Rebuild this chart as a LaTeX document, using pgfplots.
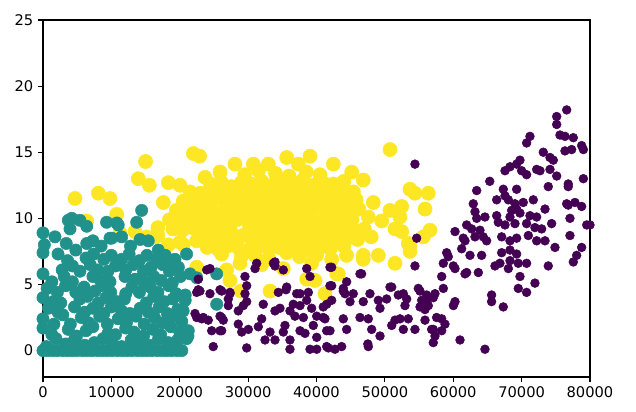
\documentclass[border=0pt]{standalone}
\usepackage{pgfplots}
\pgfplotsset{compat=1.18}
\usepackage{fontspec}
\setmainfont{DejaVu Sans}
\definecolor{vpurple}{HTML}{440154}
\definecolor{vteal}{HTML}{21918C}
\definecolor{vyellow}{HTML}{FDE725}
\begin{document}
\begin{tikzpicture}
\path[use as bounding box] (-32.25pt,-25.5pt) rectangle (444.75pt,282.75pt);
\begin{axis}[
  at={(0,0)}, anchor=south west,
  scale only axis, width=410.25pt, height=267.75pt,
  xmin=0, xmax=80000, ymin=-2, ymax=25,
  xtick={0,10000,...,80000}, ytick={0,5,...,25},
  scaled x ticks=false,
  /pgf/number format/1000 sep={},
  /pgf/number format/assume math mode=true,
  tick label style={font=\fontsize{11}{13}\selectfont, black},
  tick align=outside, tick pos=left,
  major tick length=3.8pt,
  axis line style={line width=0.9pt},
  every tick/.style={black, line width=0.9pt},
]
% yellow cluster
\addplot[only marks, mark=*, mark size=5.3pt, color=vyellow, mark options={draw=vyellow}] table {
x y
22000 14.9
22900 14.7
50750 15.2
35640 14.6
39050 14.7
28080 14.1
30760 14.1
32950 14.1
37340 14.1
42460 14.1
15000 14.3
23700 13.1
25890 13.5
29500 13.3
31500 13.6
34000 13.4
36000 13.2
38500 13.5
40500 13.3
45150 13.5
13940 13.0
15550 12.5
18330 12.7
20040 12.5
24500 12.6
26000 12.8
27500 12.4
29000 12.7
30500 12.6
32000 12.8
33500 12.5
35000 12.7
36500 12.6
38000 12.9
39500 12.5
41000 12.7
42500 12.6
44000 12.8
46840 12.9
53670 12.2
21500 12.0
23000 11.9
24400 12.1
25800 11.8
27200 12.0
28600 12.2
30000 11.9
31400 12.1
32800 11.8
34200 12.0
35600 12.2
37000 11.9
38400 12.1
39800 11.8
41200 12.0
42600 12.1
44000 11.9
45400 12.0
54400 11.9
56350 11.9
17600 11.2
9800 11.5
8090 11.9
4680 11.5
20500 11.3
22000 11.4
23400 11.2
24800 11.3
26200 11.5
27600 11.2
29000 11.4
30400 11.3
31800 11.2
33200 11.5
34600 11.3
36000 11.2
37400 11.4
38800 11.3
40200 11.1
41600 11.4
43000 11.3
44400 11.2
45800 11.4
48300 11.2
10780 10.3
19500 10.6
21000 10.5
22400 10.7
23800 10.6
25200 10.4
26600 10.7
28000 10.5
29400 10.6
30800 10.8
32200 10.5
33600 10.6
35000 10.4
36400 10.7
37800 10.5
39200 10.6
40600 10.8
42000 10.5
43400 10.6
44800 10.4
46200 10.7
50750 10.6
52460 10.9
55870 10.7
18500 9.9
20000 9.8
21400 10.0
22800 9.9
24200 9.7
25600 10.0
27000 9.8
28400 9.9
29800 10.1
31200 9.8
32600 9.9
34000 10.0
35400 9.7
36800 9.9
38200 10.1
39600 9.8
41000 9.9
42400 10.0
43800 9.8
45200 9.9
47580 10.1
49540 9.8
52200 10.1
13450 9.0
11260 8.9
16800 9.3
19000 9.2
20400 9.1
21800 9.3
23200 9.2
24600 9.0
26000 9.3
27400 9.1
30200 9.4
31600 9.1
33000 9.2
34400 9.3
35800 9.0
37200 9.2
38600 9.4
40000 9.1
41400 9.2
42800 9.0
44200 9.3
45600 9.1
47000 9.2
51480 9.2
52460 9.0
56600 9.1
6390 9.8
15160 8.6
16800 8.7
20040 8.2
22480 8.3
23600 8.5
25000 8.6
26400 8.4
27800 8.5
29200 8.7
30600 8.4
32000 8.5
33400 8.6
34800 8.4
36200 8.5
37600 8.7
39000 8.4
40400 8.5
41800 8.6
43200 8.3
44600 8.5
46000 8.4
48000 8.6
55620 8.6
16380 8.6
18330 8.0
20520 8.0
24000 7.8
25500 7.7
27000 7.9
28500 7.8
30000 7.6
31500 7.9
33000 7.7
34500 7.8
36000 7.7
37500 7.9
39000 7.6
40500 7.8
42000 7.7
44000 7.9
53670 8.0
53420 8.1
26130 7.3
29000 7.1
31000 7.2
33000 7.0
35640 7.4
37500 7.1
40000 7.2
42220 6.9
44400 7.2
46840 7.2
49040 7.2
53670 7.5
28810 6.6
22480 6.3
26860 6.1
35150 6.2
39290 6.6
46840 6.9
51480 6.6
32000 6.5
27350 5.3
39780 5.3
38570 5.4
43190 5.8
42950 5.8
33200 4.5
41240 4.3
28900 4.5
};
% teal cluster
\addplot[only marks, mark=*, mark size=4.6pt, color=vteal, mark options={draw=vteal}] table {
x y
0 0
700 0
1400 0
2100 0
2900 0
3600 0
4300 0
5000 0
5800 0
6500 0
7200 0
8000 0
8700 0
9400 0
10100 0
10900 0
11600 0
12300 0
13000 0
13800 0
14500 0
15200 0
15900 0
16700 0
17400 0
18100 0
18800 0
19600 0
20300 0
500 0.3
1900 0.9
3300 0.5
4600 0.8
6100 0.4
7500 0.6
8800 0.9
10200 0.5
11500 0.3
12900 0.8
14200 0.6
15600 0.4
16900 0.9
18300 0.6
19700 0.8
21000 0.9
0 1.7
1300 1.2
3700 1.6
4900 1.1
6300 1.5
7300 1.8
9500 1.3
10600 1.2
12100 1.7
13300 1.4
14700 1.1
16100 1.6
17200 1.2
18700 1.8
20000 1.4
21200 1.1
0 2.4
1600 2.0
2900 2.7
4000 2.0
5600 2.5
6700 2.1
8300 2.6
9400 2.0
11000 2.4
12200 2.1
13600 2.6
14800 2.0
16300 2.5
17500 2.1
19000 2.6
20300 2.2
800 3.2
2200 2.9
4600 3.3
6100 2.9
7300 3.2
8900 2.8
10000 3.3
11500 3.0
12700 2.8
14200 3.2
15400 2.9
17000 3.3
18200 2.8
19700 3.1
0 4.0
1500 3.7
2600 3.6
5400 3.9
6500 4.1
8100 3.6
9200 4.0
10800 3.7
11900 3.9
15100 3.6
16200 4.1
17700 3.7
19000 3.9
600 4.7
2100 4.4
3300 4.9
4800 4.4
6000 4.8
7600 4.5
8700 4.9
9900 4.4
12100 4.3
13000 4.8
14100 4.4
15700 4.8
16800 4.4
18400 4.9
19500 4.3
20800 4.2
0 5.8
1300 5.2
3100 5.6
4300 5.2
7300 5.6
8400 5.3
9800 5.2
12000 5.6
13500 5.4
14700 5.2
16200 5.6
17300 5.3
18900 5.1
20100 5.6
2800 6.1
4300 6.4
5400 6.0
6900 6.5
8000 6.1
9500 6.0
10600 6.4
12100 6.1
13200 6.5
14700 6.0
15800 6.3
17500 6.5
18500 6.0
0 7.4
2200 7.3
3600 6.8
4800 7.6
6300 7.0
7400 7.3
8900 6.9
10000 7.2
11500 6.9
12600 7.3
14100 6.8
15200 7.2
16700 6.8
17900 7.2
200 8.0
3400 8.1
6400 8.1
7300 8.3
8500 7.9
9800 8.5
11500 8.6
12800 7.9
14200 8.4
15400 8.3
0 8.9
1750 8.6
3700 9.85
3950 9.2
5400 9.85
6400 9.4
4200 10.0
9300 9.7
10800 9.65
11000 9.5
13700 9.7
14430 10.6
10050 8.5
16860 7.6
16630 6.9
18090 6.6
19300 6.9
21000 7.3
21500 5.8
22500 5.5
25400 5.8
25400 3.5
20800 3.8
21250 1.5
20500 3.0
19800 6.3
};
% purple cluster
\addplot[only marks, mark=*, mark size=3.3pt, color=vpurple, mark options={draw=vpurple}] table {
x y
22710 5.4
24420 6.2
29540 5.6
31010 6.2
33930 6.4
35150 6.1
38570 6.2
22710 4.6
24420 4.3
25890 4.6
27350 4.4
27100 3.9
29300 3.4
29790 3.7
28560 3.0
32220 3.5
34420 4.4
35540 4.6
33930 3.0
34660 3.2
37100 4.3
36610 3.5
37590 3.4
36120 3.0
36850 2.6
38080 2.5
38810 4.4
38570 3.8
39290 3.2
40030 2.6
39530 1.9
41490 3.5
40990 2.5
41490 1.5
22230 2.8
23440 2.5
24170 2.3
26130 2.5
26130 1.5
24670 1.5
28560 2.0
29060 1.4
30030 1.6
31490 1.8
31980 2.4
33200 1.4
32470 0.8
33930 0.8
35390 1.9
35150 1.4
36120 0.8
37590 1.5
38320 1.3
24900 0.3
29790 0.2
36120 0.1
39050 0.1
40030 0.1
41730 0.2
40030 1.0
29540 4.3
54650 8.5
54400 6.4
46600 5.8
55140 4.5
41970 4.9
43920 4.7
44170 4.3
47820 4.3
50750 4.8
51960 4.2
53190 3.9
55380 3.8
56110 4.2
42220 3.8
44900 3.7
46840 3.7
49040 3.8
50260 3.9
52940 3.4
55140 3.3
40990 3.3
46360 2.5
47580 2.4
49290 3.2
51480 2.3
52210 2.4
53420 2.4
55870 3.1
41240 2.4
41970 1.5
43920 2.4
44410 1.6
48070 1.6
49290 1.1
51000 1.9
52700 1.6
54400 1.6
41490 0.3
42700 0.1
43680 0.3
47580 0.3
54400 14.1
33690 6.6
42220 6.3
44410 5.2
51000 4.8
54890 4.7
39050 5.6
23940 6.1
22480 4.4
27350 4.3
27100 3.4
22480 2.5
23210 2.4
25890 2.6
25890 1.5
26370 2.3
31250 6.6
33930 6.7
41970 6.3
46360 5.8
43920 4.5
22960 4.5
26130 4.5
29790 4.9
35640 4.8
37590 4.3
42220 4.9
45380 4.3
52700 4.3
76590 18.2
75130 17.7
75130 17.1
75610 16.3
76340 16.2
77560 16.1
78780 15.5
79030 15.2
76340 15.1
77320 15.2
71220 16.2
70730 15.7
73170 15.0
74150 14.6
74630 14.4
69760 14.4
69270 14.1
68300 13.9
67570 13.6
70000 13.6
70730 13.3
72200 13.7
72690 13.6
74150 13.7
75130 13.2
79030 13.0
76820 12.6
76820 12.4
73900 12.4
65340 12.8
69270 12.2
67320 12.2
63430 12.1
67570 11.7
68060 11.4
66350 11.4
69030 11.1
70240 11.2
71710 11.4
62930 11.1
76590 11.1
77800 11.2
78780 10.9
76820 11.0
73420 10.7
68540 10.6
69270 10.7
69760 10.4
71220 10.2
72200 10.1
68300 10.1
66350 10.2
64640 10.1
63180 10.5
63430 10.0
66590 9.7
67570 9.5
69030 9.6
70730 9.6
71950 9.3
72930 9.2
74390 9.6
77070 10.0
79520 9.5
61960 9.5
62690 9.2
63910 9.1
60260 9.0
64390 8.6
63180 8.6
61470 8.5
64880 8.3
67080 8.6
68300 8.3
69270 8.5
70980 8.7
72200 8.3
73420 8.3
77070 8.7
78780 7.8
61230 7.7
62450 7.2
64150 7.2
67080 7.4
68300 7.6
69270 7.3
68300 6.8
66830 6.6
66100 6.4
68060 6.2
69510 6.6
70730 6.6
73900 6.4
74880 7.8
78050 7.2
77560 6.7
59040 7.4
59280 7.1
58550 6.6
60020 6.4
61960 5.9
63670 5.9
58310 5.6
69760 5.6
69510 4.7
70730 4.4
71950 5.1
65610 4.2
65610 3.7
67320 3.3
60260 3.7
60020 3.4
58550 4.7
57330 4.3
57080 4.0
56110 3.8
55380 3.4
56350 3.4
57570 2.5
58310 2.4
58790 2.0
57080 1.6
55870 2.3
58310 1.5
57330 1.1
57080 0.6
60990 0.8
64640 0.1
80000 9.5
61720 8.3
60260 6.2
61720 5.8
47510 0.5
56840 1.6
};
\end{axis}
\end{tikzpicture}
\end{document}
